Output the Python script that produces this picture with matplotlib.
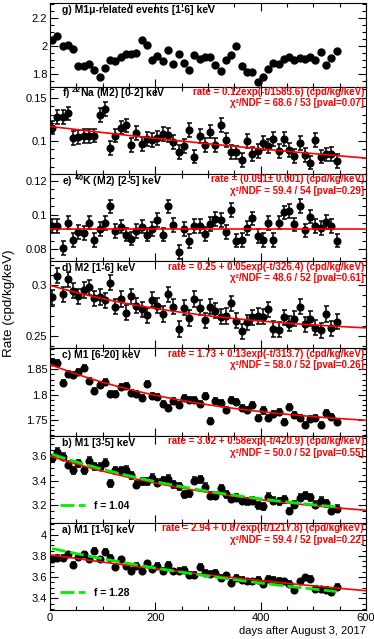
import numpy as np
import matplotlib
matplotlib.use("Agg")
import matplotlib.pyplot as plt
from matplotlib.ticker import MultipleLocator
from matplotlib.lines import Line2D

plt.rcParams['font.family'] = ['Liberation Sans', 'DejaVu Sans']
plt.rcParams['mathtext.fontset'] = 'custom'
plt.rcParams['mathtext.rm'] = 'Liberation Sans'
plt.rcParams['mathtext.bf'] = 'Liberation Sans:bold'

days = [4, 14, 24, 34, 44, 54, 64, 74, 84, 94, 104, 114, 124, 134, 144, 154, 164, 174, 184, 194,
        204, 214, 224, 234, 244, 254, 264, 274, 284, 294, 304, 314, 324, 334, 344, 354, 364, 374,
        384, 394, 404, 414, 424, 434, 444, 454, 464, 474, 484, 494, 504, 514, 524, 534, 544]

g_vals = [2.040, 2.068, 2.000, 2.005, 1.974, 1.856, 1.852, 1.866, 1.824, 1.776, 1.842, 1.894, 1.887,
          1.922, 1.941, 1.941, 1.948, 2.042, 2.007, 1.894, 1.927, 1.889, 1.969, 1.871, 1.941, 1.875,
          1.824, 1.934, 1.908, 1.922, 1.922, 1.859, 1.819, 1.894, 1.934, 1.995, 1.852, 1.814, 1.809,
          1.739, 1.772, 1.833, 1.875, 1.871, 1.906, 1.918, 1.894, 1.913, 1.906, 1.922, 1.899, 1.953,
          1.864, 1.913, 1.965]

f_vals = [0.1152, 0.1270, 0.1277, 0.1316, 0.1031, 0.1039, 0.1051, 0.1051, 0.1059, 0.1301, 0.1363,
          0.0918, 0.1059, 0.1152, 0.1176, 0.0949, 0.1090, 0.0957, 0.1020, 0.1012, 0.1027, 0.1078,
          0.1066, 0.0988, 0.0871, 0.0941, 0.1121, 0.0816, 0.1051, 0.0949, 0.1105, 0.0949, 0.1184,
          0.1012, 0.0871, 0.0863, 0.0777, 0.1000, 0.0848, 0.0879, 0.0973, 0.0934, 0.1020, 0.0879,
          0.1020, 0.0895, 0.0824, 0.0973, 0.0832, 0.0746, 0.1012, 0.0816, 0.0840, 0.0848, 0.0762]

e_vals = [0.0936, 0.0936, 0.0808, 0.0955, 0.0854, 0.0901, 0.0893, 0.0955, 0.0854, 0.0917, 0.0951,
          0.1049, 0.0905, 0.0932, 0.0885, 0.0862, 0.0905, 0.0932, 0.0885, 0.0917, 0.0971, 0.0885,
          0.1049, 0.0940, 0.0784, 0.0917, 0.0847, 0.0936, 0.0936, 0.0889, 0.0948, 0.0975, 0.0971,
          0.0901, 0.1029, 0.0850, 0.0854, 0.0924, 0.0979, 0.0878, 0.0854, 0.0951, 0.0854, 0.0955,
          0.1014, 0.1021, 0.0944, 0.1052, 0.0909, 0.0990, 0.0936, 0.0924, 0.0959, 0.0936, 0.0850]

d_vals = [0.2882, 0.3095, 0.2912, 0.3061, 0.2946, 0.2892, 0.2953, 0.2980, 0.2872, 0.2885, 0.2851,
          0.3027, 0.2787, 0.2865, 0.2730, 0.2892, 0.2797, 0.2764, 0.2703, 0.2858, 0.2797, 0.2716,
          0.2912, 0.2790, 0.2568, 0.2777, 0.2676, 0.2865, 0.2777, 0.2655, 0.2790, 0.2750, 0.2689,
          0.2696, 0.2824, 0.2649, 0.2547, 0.2635, 0.2682, 0.2696, 0.2689, 0.2764, 0.2568, 0.2561,
          0.2682, 0.2622, 0.2669, 0.2790, 0.2615, 0.2669, 0.2581, 0.2554, 0.2716, 0.2574, 0.2642]

c_vals = [1.8647, 1.8628, 1.8237, 1.8404, 1.8391, 1.8442, 1.8532, 1.8276, 1.8071, 1.8186, 1.8244,
          1.8019, 1.8019, 1.8160, 1.8179, 1.8032, 1.8006, 1.7936, 1.8212, 1.7981, 1.7955, 1.7814,
          1.7737, 1.7878, 1.7801, 1.7929, 1.7891, 1.7891, 1.7814, 1.7981, 1.7481, 1.7865, 1.7840,
          1.7699, 1.7891, 1.7853, 1.7737, 1.7699, 1.7801, 1.7545, 1.7686, 1.7545, 1.7622, 1.7647,
          1.7455, 1.7763, 1.7596, 1.7532, 1.7391, 1.7519, 1.7545, 1.7391, 1.7635, 1.7558, 1.7455]

b_vals = [3.5818, 3.6350, 3.5958, 3.5287, 3.4839, 3.5399, 3.4839, 3.5622, 3.5175, 3.5119, 3.5455,
          3.3776, 3.4839, 3.4839, 3.4895, 3.4448, 3.3664, 3.3944, 3.3944, 3.4224, 3.3832, 3.4056,
          3.4168, 3.3720, 3.3552, 3.2881, 3.2993, 3.4000, 3.4112, 3.3497, 3.2769, 3.2769, 3.3385,
          3.2881, 3.2545, 3.2601, 3.2378, 3.2322, 3.2378, 3.1986, 3.1930, 3.2713, 3.2378, 3.2322,
          3.2490, 3.1538, 3.2042, 3.2601, 3.2825, 3.2657, 3.2042, 3.2378, 3.2154, 3.1538, 3.1706]

a_vals = [3.7751, 3.7844, 3.7844, 3.8156, 3.7129, 3.7907, 3.8156, 3.7658, 3.8467, 3.7658, 3.8404,
          3.7844, 3.6974, 3.7658, 3.7036, 3.6600, 3.7036, 3.6600, 3.7285, 3.6725, 3.7036, 3.6600,
          3.7160, 3.6538, 3.6600, 3.6663, 3.6227, 3.6227, 3.6974, 3.6414, 3.6289, 3.6414, 3.5916,
          3.6165, 3.5482, 3.5916, 3.5729, 3.5605, 3.5605, 3.5729, 3.5358, 3.5854, 3.5729, 3.5667,
          3.5605, 3.5358, 3.4798, 3.5605, 3.5978, 3.5854, 3.4921, 3.4859, 3.4798, 3.4610, 3.5109]

# per-panel error bar half-widths
errs = {'g': 0.0, 'f': 0.008, 'e': 0.004, 'd': 0.0075, 'c': 0.006, 'b': 0.028, 'a': 0.025}

# fit parameters: (constant, amplitude, tau) ; tau=None means flat
fits = {'g': None,
        'f': (0.0, 0.1165, 1583.6),
        'e': (0.0915, 0.0, None),
        'd': (0.25, 0.05, 326.4),
        'c': (1.73, 0.13, 313.7),
        'b': (3.02, 0.58, 420.9),
        'a': (2.94, 0.87, 1217.8)}

# green dashed model curves
green = {'b': (3.03, 0.59, 410.0, 'f = 1.04'),
         'a': (3.1167, 0.7567, 700.0, 'f = 1.28')}

labels = {'g': 'g) M1μ-related events [1-6] keV',
          'f': r'f) $^{\mathbf{22}}$Na (M2) [0-2] keV',
          'e': r'e) $^{\mathbf{40}}$K (M2) [2-5] keV',
          'd': 'd) M2 [1-6] keV',
          'c': 'c) M1 [6-20] keV',
          'b': 'b) M1 [3-5] keV',
          'a': 'a) M1 [1-6] keV'}

fit_text = {'g': None,
            'f': ('rate = 0.12exp(-t/1583.6) (cpd/kg/keV)', 'χ²/NDF = 68.6 / 53 [pval=0.07]'),
            'e': ('rate = (0.091± 0.001) (cpd/kg/keV)', 'χ²/NDF = 59.4 / 54 [pval=0.29]'),
            'd': ('rate = 0.25 + 0.05exp(-t/326.4) (cpd/kg/keV)', 'χ²/NDF = 48.6 / 52 [pval=0.61]'),
            'c': ('rate = 1.73 + 0.13exp(-t/313.7) (cpd/kg/keV)', 'χ²/NDF = 58.0 / 52 [pval=0.26]'),
            'b': ('rate = 3.02 + 0.58exp(-t/420.9) (cpd/kg/keV)', 'χ²/NDF = 50.0 / 52 [pval=0.55]'),
            'a': ('rate = 2.94 + 0.87exp(-t/1217.8) (cpd/kg/keV)', 'χ²/NDF = 59.4 / 52 [pval=0.22]')}

ylims = {'g': (1.707, 2.307), 'f': (0.0616, 0.1628), 'e': (0.0731, 0.124),
         'd': (0.2378, 0.324), 'c': (1.719, 1.892), 'b': (3.058, 3.767), 'a': (3.29, 4.112)}
yticks = {'g': (0.2, 0.05), 'f': (0.05, 0.01), 'e': (0.02, 0.005), 'd': (0.05, 0.01),
          'c': (0.05, 0.01), 'b': (0.2, 0.05), 'a': (0.2, 0.05)}

vals = {'g': g_vals, 'f': f_vals, 'e': e_vals, 'd': d_vals, 'c': c_vals, 'b': b_vals, 'a': a_vals}
order = ['g', 'f', 'e', 'd', 'c', 'b', 'a']

W, H = 374, 639
fig = plt.figure(figsize=(W / 100, H / 100), dpi=100)
bounds = [3, 86.5, 173.75, 261, 348.25, 435.5, 522.75, 610]
x0, x1 = 50, 366
FS = 7.0
FL = 7.5
GREEN = '#00ee00'

tgrid = np.linspace(0, 600, 301)
tdat = np.linspace(days[0], days[-1], 200)

for i, k in enumerate(order):
    top, bot = bounds[i], bounds[i + 1]
    ax = fig.add_axes([x0 / W, 1 - bot / H, (x1 - x0) / W, (bot - top) / H])
    hpx = bot - top
    y = np.array(vals[k])
    if errs[k] > 0:
        ax.errorbar(days, y, yerr=errs[k], fmt='o', color='black', ms=4.8,
                    elinewidth=1.1, capsize=1.8, capthick=1.1, zorder=3)
    else:
        ax.plot(days, y, 'o', color='black', ms=5.0, zorder=3)
    fp = fits[k]
    if fp is not None:
        c0, amp, tau = fp
        if tau is None:
            fy = np.full_like(tgrid, c0)
        else:
            fy = c0 + amp * np.exp(-tgrid / tau)
        ax.plot(tgrid, fy, color='red', lw=1.2, zorder=4)
    if k in green:
        gc, ga, gt, glab = green[k]
        gy = gc + ga * np.exp(-tdat / gt)
        ax.plot(tdat, gy, color=GREEN, lw=2.0, ls=(0, (5, 1.6)), zorder=5)
        ax.legend([Line2D([], [], color=GREEN, lw=2.0, ls=(0, (5, 1.6)))], [glab],
                  loc='lower left', bbox_to_anchor=(0.02, 0.09), frameon=False,
                  handlelength=2.4, handletextpad=0.8, borderaxespad=0,
                  prop={'weight': 'bold', 'size': FL})
    ax.set_xlim(0, 600)
    ax.set_ylim(*ylims[k])
    ax.xaxis.set_major_locator(MultipleLocator(200))
    ax.xaxis.set_minor_locator(MultipleLocator(50))
    ax.yaxis.set_major_locator(MultipleLocator(yticks[k][0]))
    ax.yaxis.set_minor_locator(MultipleLocator(yticks[k][1]))
    ax.tick_params(which='both', direction='in', top=True, right=True, labelsize=8, pad=2)
    ax.tick_params(which='major', length=5.5, width=0.8)
    ax.tick_params(which='minor', length=2.8, width=0.8)
    for s in ax.spines.values():
        s.set_linewidth(0.8)
    ax.yaxis.set_major_formatter(matplotlib.ticker.FuncFormatter(lambda v, p: ('%g' % round(v, 4))))
    if k != 'a':
        ax.tick_params(labelbottom=False)
    ax.text(0.038, 1 - 7.0 / hpx, labels[k], transform=ax.transAxes, fontsize=FL,
            fontweight='bold', ha='left', va='center', zorder=6)
    if fit_text[k] is not None:
        l1, l2 = fit_text[k]
        ax.text(0.994, 1 - 5.5 / hpx, l1, transform=ax.transAxes, fontsize=FS,
                fontweight='bold', color='red', ha='right', va='center', zorder=6)
        ax.text(0.994, 1 - 17 / hpx, l2, transform=ax.transAxes, fontsize=FS,
                fontweight='bold', color='red', ha='right', va='center', zorder=6)
    if k == 'a':
        ax.set_xlabel('days after August 3, 2017', fontsize=8, loc='right', labelpad=2)

fig.text(9 / W, 1 - 303 / H, 'Rate (cpd/kg/keV)', rotation=90, fontsize=9.6,
         ha='center', va='center')

fig.savefig('out.png', dpi=100)
